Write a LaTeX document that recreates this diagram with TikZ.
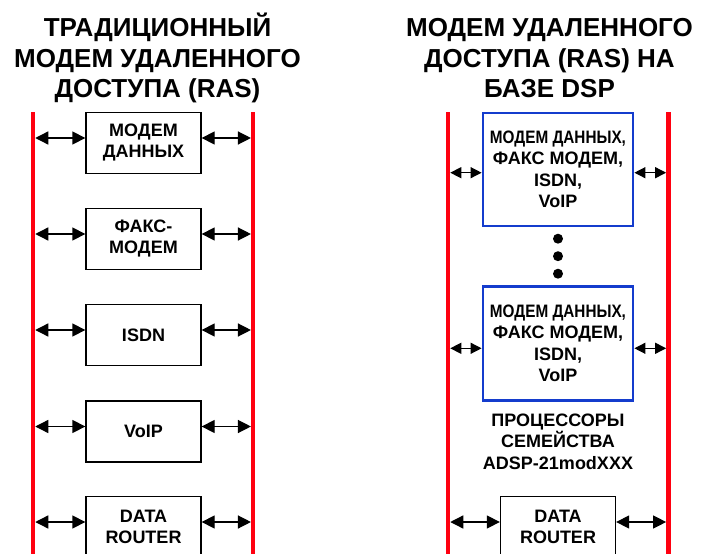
\documentclass[tikz,border=0pt]{standalone}
\usepackage{fontspec}
\setmainfont{Liberation Sans}
\usepackage{graphicx}
\usetikzlibrary{arrows.meta}
\definecolor{rasred}{RGB}{255,0,16}
\definecolor{rasblue}{RGB}{20,60,205}
\begin{document}
\begin{tikzpicture}[x=1pt,y=-1pt,
  redline/.style={draw=rasred,line width=4.5pt},
  blkbox/.style={draw=black,line width=1.3pt,fill=white,minimum width=115pt,minimum height=61pt,
    align=center,inner sep=0pt,font=\fontsize{18}{21}\selectfont\bfseries},
  bluebox/.style={draw=rasblue,line width=2.8pt,fill=white,minimum width=150pt,
    align=center,inner sep=0pt,font=\fontsize{18}{21.5}\selectfont\bfseries},
  biarr/.style={line width=1.3pt,{Triangle[length=13pt,width=13pt]}-{Triangle[length=13pt,width=13pt]}},
  smallarr/.style={line width=1.3pt,{Triangle[length=11pt,width=11pt]}-{Triangle[length=11pt,width=11pt]}},
  ttl/.style={anchor=base,inner sep=0pt,font=\fontsize{26}{30}\selectfont\bfseries},
  lbl/.style={align=center,inner sep=0pt,font=\fontsize{18}{21.5}\selectfont\bfseries},
  dotnode/.style={circle,fill=black,inner sep=0pt,minimum size=10pt}
]
\useasboundingbox (0,0) rectangle (702,554);
\clip (0,0) rectangle (702,554);

% titles
\node[ttl] (tl1) at (157.5,36.5) {ТРАДИЦИОННЫЙ};
\node[ttl] (tl2) at (157.5,67.5) {МОДЕМ УДАЛЕННОГО};
\node[ttl] (tl3) at (157.5,97.5) {ДОСТУПА (RAS)};
\node[ttl] (tr1) at (549.5,36) {МОДЕМ УДАЛЕННОГО};
\node[ttl] (tr2) at (549.5,67.5) {ДОСТУПА (RAS) НА};
\node[ttl] (tr3) at (549.5,97.5) {БАЗЕ DSP};

% red buses
\coordinate (LAtop) at (33,112);   \coordinate (LAbot) at (33,560);
\coordinate (LBtop) at (253.2,112); \coordinate (LBbot) at (253.2,560);
\coordinate (RAtop) at (448,112);  \coordinate (RAbot) at (448,560);
\coordinate (RBtop) at (668.4,112); \coordinate (RBbot) at (668.4,560);
\coordinate (LAin) at (35.25,112);
\coordinate (LBin) at (250.95,112);
\coordinate (RAin) at (450.25,112);
\coordinate (RBin) at (666.15,112);

% left boxes
\node[blkbox] (m1) at (143.5,143) {МОДЕМ\\ДАННЫХ};
\node[blkbox] (m2) at (143.5,239) {ФАКС-\\МОДЕМ};
\node[blkbox] (m3) at (143.5,335) {ISDN};
\node[blkbox] (m4) at (143.5,431.5) {VoIP};
\node[blkbox] (m5) at (143.5,527) {DATA\\ROUTER};

% right boxes
\node[bluebox,minimum height=113pt] (b1) at (558,169.5)
  {\scalebox{0.85}[1]{МОДЕМ ДАННЫХ,}\\ФАКС МОДЕМ,\\ISDN,\\VoIP};
\node[bluebox,minimum height=114pt] (b2) at (558,343.4)
  {\scalebox{0.85}[1]{МОДЕМ ДАННЫХ,}\\ФАКС МОДЕМ,\\ISDN,\\VoIP};
\node[blkbox] (r5) at (558,527) {DATA\\ROUTER};

\node[dotnode] (d1) at (558,238.7) {};
\node[dotnode] (d2) at (558,256.2) {};
\node[dotnode] (d3) at (558,273.7) {};

\node[lbl,anchor=north] (proc) at (558,413.3) {ПРОЦЕССОРЫ\\СЕМЕЙСТВА\\ADSP-21modXXX};

% arrow attachment points
\foreach \n in {m1,m2,m3,m4,m5,r5} {
  \coordinate (\n w) at ([yshift=5pt]\n.west);
  \coordinate (\n e) at ([yshift=5pt]\n.east);
}
\coordinate (b1w) at ([yshift=-3.2pt]b1.west);
\coordinate (b1e) at ([yshift=-3.2pt]b1.east);
\coordinate (b2w) at ([yshift=-4.9pt]b2.west);
\coordinate (b2e) at ([yshift=-4.9pt]b2.east);

\foreach \n in {m1,m2,m3,m4,m5} {
  \draw[biarr] (LAin |- \n w) -- (\n w);
  \draw[biarr] (\n e) -- (LBin |- \n e);
}
\foreach \n in {b1,b2} {
  \draw[smallarr] (RAin |- \n w) -- (\n w);
  \draw[smallarr] (\n e) -- (RBin |- \n e);
}
\draw[biarr] (RAin |- r5w) -- (r5w);
\draw[biarr] (r5e) -- (RBin |- r5e);

\draw[redline] (LAtop) -- (LAbot);
\draw[redline] (LBtop) -- (LBbot);
\draw[redline] (RAtop) -- (RAbot);
\draw[redline] (RBtop) -- (RBbot);
\end{tikzpicture}
\end{document}
